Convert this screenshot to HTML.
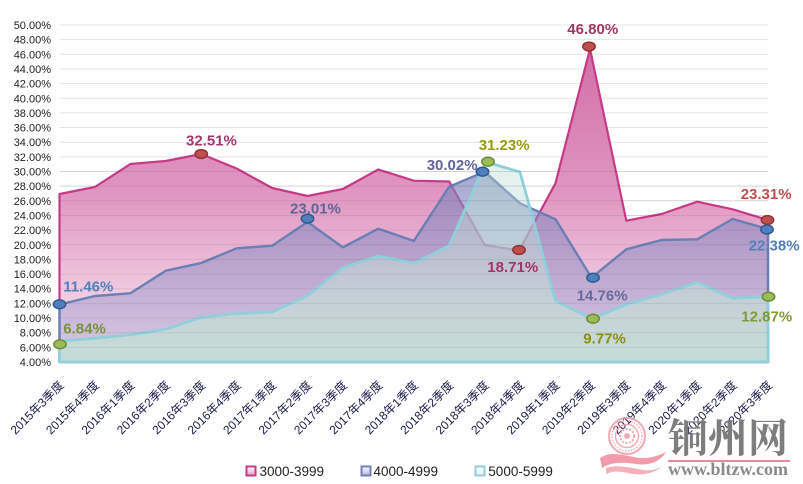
<!DOCTYPE html>
<html><head><meta charset="utf-8"><style>
html,body{margin:0;padding:0;background:#fff;}
svg{display:block;}
.yl{font-family:"Liberation Sans",sans-serif;font-size:11px;fill:#222;text-anchor:end;}
.xl{font-family:"Liberation Sans","Noto Sans CJK SC",sans-serif;font-size:12px;fill:#1a1a4a;text-anchor:end;}
.dl{font-family:"Liberation Sans",sans-serif;font-size:15px;font-weight:bold;}
.lg{font-family:"Liberation Sans",sans-serif;font-size:13.5px;fill:#222;}
</style></head><body>
<svg width="803" height="484" viewBox="0 0 803 484" xmlns="http://www.w3.org/2000/svg">
<defs>
<linearGradient id="gp" gradientUnits="userSpaceOnUse" x1="0" y1="25" x2="0" y2="362">
<stop offset="0" stop-color="#cf68a3"/><stop offset="0.5" stop-color="#e096c1"/><stop offset="0.8" stop-color="#f0cbe0"/><stop offset="1" stop-color="#f8e4ef"/>
</linearGradient>
<linearGradient id="gb" gradientUnits="userSpaceOnUse" x1="0" y1="170" x2="0" y2="362">
<stop offset="0" stop-color="#7b80b8" stop-opacity="0.68"/><stop offset="1" stop-color="#a8a4d4" stop-opacity="0.4"/>
</linearGradient>
<linearGradient id="gc" gradientUnits="userSpaceOnUse" x1="0" y1="160" x2="0" y2="362">
<stop offset="0" stop-color="#b4dcd2" stop-opacity="0.35"/><stop offset="0.6" stop-color="#c4e0d8" stop-opacity="0.55"/><stop offset="1" stop-color="#c3ddd3" stop-opacity="0.92"/>
</linearGradient>
<linearGradient id="lp" x1="0" y1="0" x2="0" y2="1"><stop offset="0" stop-color="#fff"/><stop offset="1" stop-color="#e49ac4"/></linearGradient>
<linearGradient id="lb" x1="0" y1="0" x2="0" y2="1"><stop offset="0" stop-color="#fff"/><stop offset="1" stop-color="#b5b3da"/></linearGradient>
<linearGradient id="lc" x1="0" y1="0" x2="0" y2="1"><stop offset="0" stop-color="#fff"/><stop offset="1" stop-color="#dcefea"/></linearGradient>
</defs>

<!-- gridlines -->
<g stroke="#e4e4e4" stroke-width="1">
<line x1="60" x2="768" y1="25" y2="25"/><line x1="60" x2="768" y1="39.65" y2="39.65"/><line x1="60" x2="768" y1="54.3" y2="54.3"/><line x1="60" x2="768" y1="68.96" y2="68.96"/><line x1="60" x2="768" y1="83.6" y2="83.6"/><line x1="60" x2="768" y1="98.26" y2="98.26"/><line x1="60" x2="768" y1="112.9" y2="112.9"/><line x1="60" x2="768" y1="127.56" y2="127.56"/><line x1="60" x2="768" y1="142.2" y2="142.2"/><line x1="60" x2="768" y1="156.87" y2="156.87"/><line x1="60" x2="768" y1="171.5" y2="171.5"/><line x1="60" x2="768" y1="186.17" y2="186.17"/><line x1="60" x2="768" y1="200.8" y2="200.8"/><line x1="60" x2="768" y1="215.5" y2="215.5"/><line x1="60" x2="768" y1="230.1" y2="230.1"/><line x1="60" x2="768" y1="244.8" y2="244.8"/><line x1="60" x2="768" y1="259.4" y2="259.4"/><line x1="60" x2="768" y1="274.1" y2="274.1"/><line x1="60" x2="768" y1="288.7" y2="288.7"/><line x1="60" x2="768" y1="303.4" y2="303.4"/><line x1="60" x2="768" y1="318" y2="318"/><line x1="60" x2="768" y1="332.7" y2="332.7"/><line x1="60" x2="768" y1="347.3" y2="347.3"/>
</g>

<!-- y labels -->
<g class="yl">
<text x="51" y="29">50.00%</text><text x="51" y="43.65">48.00%</text><text x="51" y="58.3">46.00%</text><text x="51" y="72.96">44.00%</text><text x="51" y="87.6">42.00%</text><text x="51" y="102.26">40.00%</text><text x="51" y="116.9">38.00%</text><text x="51" y="131.56">36.00%</text><text x="51" y="146.2">34.00%</text><text x="51" y="160.87">32.00%</text><text x="51" y="175.5">30.00%</text><text x="51" y="190.17">28.00%</text><text x="51" y="204.8">26.00%</text><text x="51" y="219.5">24.00%</text><text x="51" y="234.1">22.00%</text><text x="51" y="248.8">20.00%</text><text x="51" y="263.4">18.00%</text><text x="51" y="278.1">16.00%</text><text x="51" y="292.7">14.00%</text><text x="51" y="307.4">12.00%</text><text x="51" y="322">10.00%</text><text x="51" y="336.7">8.00%</text><text x="51" y="351.3">6.00%</text><text x="51" y="366">4.00%</text>
</g>

<!-- pink area -->
<path d="M59.5,362 L59.5,194 94.9,187 130.4,164 165.8,161 201.2,154 236.6,168.5 272.1,188 307.5,196 342.9,189 378.3,169.5 413.8,180.7 449.2,181.5 484.6,245 519,250.5 555.5,183.3 590,49 626.3,220.7 661.7,214 697.2,201.7 732.6,209.3 768,220 768,362 Z" fill="url(#gp)" stroke="#c63a88" stroke-width="2.2" stroke-linejoin="round"/>
<!-- blue area -->
<path d="M59.5,362 L59.5,304.5 94.9,296 130.4,293.3 165.8,270.7 201.2,263 236.6,248.3 272.1,245.7 307.5,222 342.9,247.3 378.3,228.7 413.8,241 449.2,186.7 484.6,171.7 520,203.3 555.5,219.3 591.5,277.7 626.3,249.3 661.7,240 697.2,239.3 732.6,219 768,229 768,362 Z" fill="url(#gb)" stroke="#6a7fb6" stroke-width="2.4" stroke-linejoin="round"/>
<!-- cyan area -->
<path d="M59.5,362 L59.5,341 94.9,338.3 130.4,334.7 165.8,329.3 201.2,317.3 236.6,313.5 272.1,312 307.5,295.7 342.9,267.7 378.3,256 413.8,263.3 449.2,245.7 486,162 520,172 555.5,300.7 592,318.7 626.3,304.3 661.7,294.3 697.2,282.3 732.6,298.3 768,296.7 768,362 Z" fill="url(#gc)" stroke="#8fd0dc" stroke-width="2.8" stroke-linejoin="round"/>

<!-- grid overlay inside areas -->
<g stroke="#000" stroke-opacity="0.07" stroke-width="1">
<line x1="60" x2="768" y1="171.5" y2="171.5"/><line x1="60" x2="768" y1="186.17" y2="186.17"/><line x1="60" x2="768" y1="200.8" y2="200.8"/><line x1="60" x2="768" y1="215.5" y2="215.5"/><line x1="60" x2="768" y1="230.1" y2="230.1"/><line x1="60" x2="768" y1="244.8" y2="244.8"/><line x1="60" x2="768" y1="259.4" y2="259.4"/><line x1="60" x2="768" y1="274.1" y2="274.1"/><line x1="60" x2="768" y1="288.7" y2="288.7"/><line x1="60" x2="768" y1="303.4" y2="303.4"/><line x1="60" x2="768" y1="318" y2="318"/><line x1="60" x2="768" y1="332.7" y2="332.7"/><line x1="60" x2="768" y1="347.3" y2="347.3"/>
</g>

<!-- markers -->
<g stroke-width="1.5">
<ellipse cx="201.2" cy="154" rx="6.2" ry="4.4" fill="#c24d4d" stroke="#8e3434"/>
<ellipse cx="519" cy="250" rx="6.2" ry="4.4" fill="#c24d4d" stroke="#8e3434"/>
<ellipse cx="589" cy="46.5" rx="6.2" ry="4.4" fill="#c24d4d" stroke="#8e3434"/>
<ellipse cx="767.5" cy="220" rx="6.2" ry="4.4" fill="#c24d4d" stroke="#8e3434"/>
<ellipse cx="59.5" cy="304.3" rx="6.2" ry="4.4" fill="#4f7fbd" stroke="#2d5a8e"/>
<ellipse cx="307.5" cy="218.7" rx="6.2" ry="4.4" fill="#4f7fbd" stroke="#2d5a8e"/>
<ellipse cx="482.5" cy="171.7" rx="6.2" ry="4.4" fill="#4f7fbd" stroke="#2d5a8e"/>
<ellipse cx="593" cy="277.7" rx="6.2" ry="4.4" fill="#4f7fbd" stroke="#2d5a8e"/>
<ellipse cx="767" cy="229.5" rx="6.2" ry="4.4" fill="#4f7fbd" stroke="#2d5a8e"/>
<ellipse cx="60" cy="344.3" rx="6.2" ry="4.4" fill="#9bbb59" stroke="#6f8a35"/>
<ellipse cx="488" cy="161.7" rx="6.2" ry="4.4" fill="#9bbb59" stroke="#6f8a35"/>
<ellipse cx="593" cy="318.7" rx="6.2" ry="4.4" fill="#9bbb59" stroke="#6f8a35"/>
<ellipse cx="768.5" cy="296.7" rx="6.2" ry="4.4" fill="#9bbb59" stroke="#6f8a35"/>
</g>

<!-- data labels -->
<g class="dl">
<text x="186" y="145.7" fill="#a0386e">32.51%</text>
<text x="567.3" y="34" fill="#9e3764">46.80%</text>
<text x="478.7" y="150" fill="#9a9a12">31.23%</text>
<text x="426.7" y="170" fill="#63649c">30.02%</text>
<text x="740.7" y="199" fill="#c0504d">23.31%</text>
<text x="748.7" y="250.3" fill="#4f81bd">22.38%</text>
<text x="487.3" y="272" fill="#a3346a">18.71%</text>
<text x="576.7" y="300.7" fill="#666a9c">14.76%</text>
<text x="583.3" y="343.3" fill="#8d8d10">9.77%</text>
<text x="741.3" y="321.3" fill="#7f9a35">12.87%</text>
<text x="63.3" y="291.7" fill="#4f81bd">11.46%</text>
<text x="63.3" y="333.3" fill="#77933c">6.84%</text>
<text x="290" y="213.3" fill="#606598">23.01%</text>
</g>

<!-- x labels -->
<g class="xl">
<text transform="translate(64.5,386) rotate(-45)">2015年3季度</text>
<text transform="translate(99.9,386) rotate(-45)">2015年4季度</text>
<text transform="translate(135.4,386) rotate(-45)">2016年1季度</text>
<text transform="translate(170.8,386) rotate(-45)">2016年2季度</text>
<text transform="translate(206.2,386) rotate(-45)">2016年3季度</text>
<text transform="translate(241.6,386) rotate(-45)">2016年4季度</text>
<text transform="translate(277.1,386) rotate(-45)">2017年1季度</text>
<text transform="translate(312.5,386) rotate(-45)">2017年2季度</text>
<text transform="translate(347.9,386) rotate(-45)">2017年3季度</text>
<text transform="translate(383.3,386) rotate(-45)">2017年4季度</text>
<text transform="translate(418.8,386) rotate(-45)">2018年1季度</text>
<text transform="translate(454.2,386) rotate(-45)">2018年2季度</text>
<text transform="translate(489.6,386) rotate(-45)">2018年3季度</text>
<text transform="translate(525,386) rotate(-45)">2018年4季度</text>
<text transform="translate(560.5,386) rotate(-45)">2019年1季度</text>
<text transform="translate(595.9,386) rotate(-45)">2019年2季度</text>
<text transform="translate(631.3,386) rotate(-45)">2019年3季度</text>
<text transform="translate(666.7,386) rotate(-45)">2019年4季度</text>
<text transform="translate(702.2,386) rotate(-45)">2020年1季度</text>
<text transform="translate(737.6,386) rotate(-45)">2020年2季度</text>
<text transform="translate(773,386) rotate(-45)">2020年3季度</text>
</g>

<!-- legend -->
<rect x="246.5" y="466.5" width="9" height="9" fill="url(#lp)" stroke="#c63a88" stroke-width="2"/>
<text class="lg" x="259.5" y="476">3000-3999</text>
<rect x="361.5" y="466.5" width="9" height="9" fill="url(#lb)" stroke="#7480b8" stroke-width="2"/>
<text class="lg" x="373.5" y="476">4000-4999</text>
<rect x="475.5" y="466.5" width="9" height="9" fill="url(#lc)" stroke="#92cfdd" stroke-width="2"/>
<text class="lg" x="488.3" y="476">5000-5999</text>

<!-- watermark -->
<g opacity="0.85">
<circle cx="627" cy="436" r="18" fill="none" stroke="#f29aaa" stroke-width="2"/>
<circle cx="627" cy="436" r="15" fill="none" stroke="#f4a9b6" stroke-width="1.5" stroke-dasharray="1.5 1.5"/>
<circle cx="627" cy="436" r="11.5" fill="none" stroke="#f29aaa" stroke-width="1.5"/>
<circle cx="627" cy="436" r="7" fill="none" stroke="#f29aaa" stroke-width="2" stroke-dasharray="2 1.5"/>
<circle cx="627" cy="436" r="3" fill="#f29aaa"/>
<path d="M600,458 C612,450 625,456 640,458 C650,459 660,455 666,452 C660,462 648,466 636,464 C622,462 612,462 602,468 Z" fill="#f08a9c"/>
<path d="M606,468 C618,464 630,468 644,470 C652,471 658,469 662,466 C655,474 640,476 628,473 C618,471 612,471 606,474 Z" fill="#f4a3b1"/>
</g>
<text x="668" y="452" font-family="'Noto Serif CJK SC','Liberation Serif',serif" font-weight="bold" font-size="40" fill="#7d7d7d">铜州网</text>
<line x1="668" x2="790" y1="461" y2="461" stroke="#ee8799" stroke-width="2"/>
<text x="668" y="475" font-family="'Liberation Serif',serif" font-weight="bold" font-size="18" fill="#8a8a8a">www.bltzw.com</text>
</svg>
</body></html>
